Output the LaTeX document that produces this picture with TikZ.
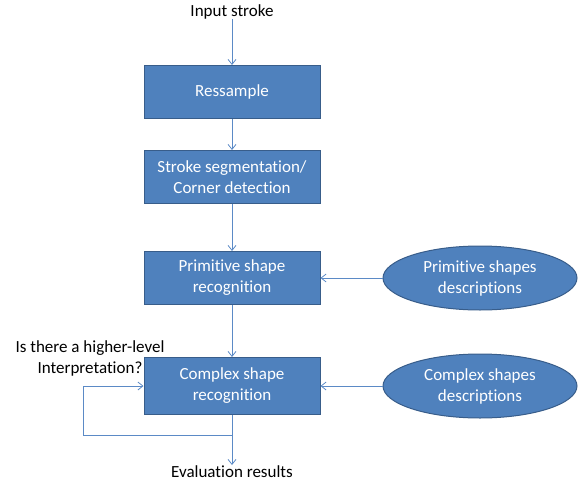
\documentclass[tikz,border=0pt]{standalone}
\usepackage{fontspec}
\setmainfont[Ligatures=NoCommon]{Carlito}
\usetikzlibrary{positioning, shapes.geometric, arrows.meta}
\definecolor{boxblue}{HTML}{4F81BD}
\definecolor{boxedge}{HTML}{385D8A}
\definecolor{linkblue}{HTML}{5B8AC6}

\begin{document}
\begin{tikzpicture}[
	  x=1pt, y=1pt,
	  font=\fontsize{17}{21}\selectfont,
	  box/.style={draw=boxedge, fill=boxblue, text=white, align=center, minimum width=176pt, minimum height=53pt, inner sep=2pt, line width=1pt},
	  descbox/.style={ellipse, draw=boxedge, fill=boxblue, text=white, align=center, minimum width=194pt, minimum height=64pt, inner sep=0pt, line width=1pt},
	  plain/.style={align=center, inner sep=0pt},
	  arr/.style={-{Straight Barb[length=5pt, width=8pt]}, draw=linkblue, line width=0.8pt}
	]
	\useasboundingbox (0,0) rectangle (580,-484);

	\node[plain] (input) at (232,-12) {Input stroke};
	\node[box] (resample) at (232,-92) {Ressample};
	\node[box, below=31pt of resample] (segment) {Stroke segmentation/\\Corner detection};
	\node[box, below=47pt of segment] (prim) {Primitive shape\\recognition};
	\node[box, below=52pt of prim, minimum height=57pt] (cmplx) {Complex shape\\recognition};
	\node[plain, below=50pt of cmplx] (result) {Evaluation results};

	\node[descbox, right=62pt of prim] (primdesc) {Primitive shapes\\descriptions};
	\node[descbox, right=62pt of cmplx] (cmplxdesc) {Complex shapes\\descriptions};

	\node[plain] (question) at (90,-358) {Is there a higher-level\\Interpretation?};

	\draw[arr] (input) -- (resample);
	\draw[arr] (resample) -- (segment);
	\draw[arr] (segment) -- (prim);
	\draw[arr] (prim) -- (cmplx);
	\draw[arr] (cmplx) -- (result);
	\draw[arr] (primdesc) -- (prim);
	\draw[arr] (cmplxdesc) -- (cmplx);
	\draw[arr] ([yshift=-20pt]cmplx.south) -| ([xshift=-60pt]cmplx.west) -- (cmplx.west);

	\end{tikzpicture}
\end{document}
